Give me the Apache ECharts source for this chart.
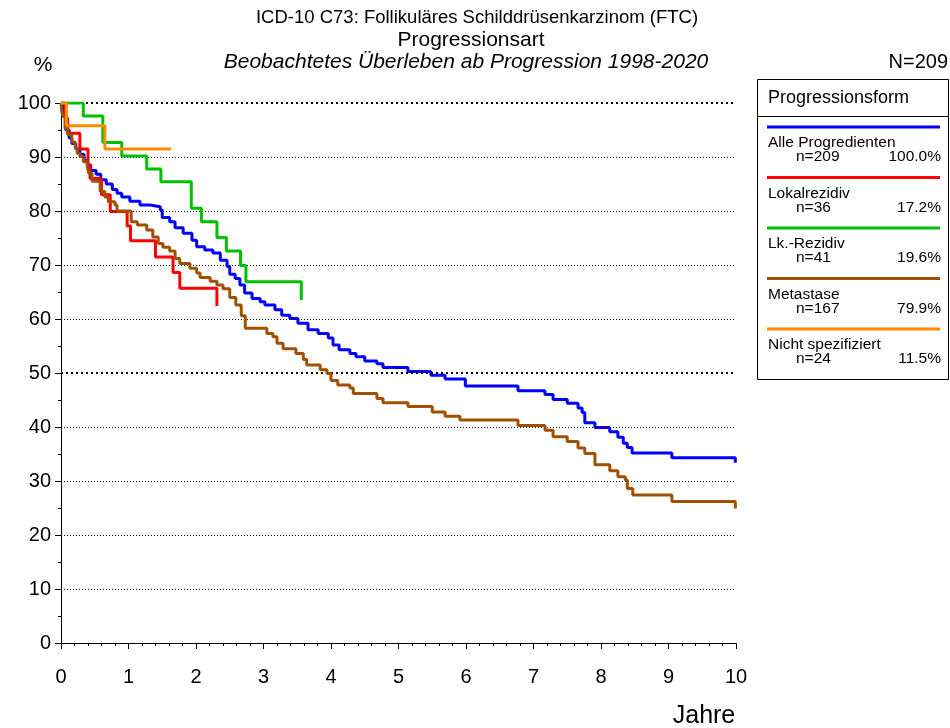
<!DOCTYPE html>
<html>
<head>
<meta charset="utf-8">
<script src="https://cdn.jsdelivr.net/npm/echarts@6/dist/echarts.min.js"></script>
<style>
html,body{margin:0;padding:0;background:#fff;}
#chart{width:950px;height:728px;}
</style>
</head>
<body>
<div id="chart"></div>
<script>
// ---- Data (years since progression, observed survival %) ----
const alleData = [[0,100],[0.03,97.5],[0.07,95.0],[0.12,93.5],[0.16,92.5],[0.22,91.5],[0.28,90.5],[0.34,89.3],[0.39,88.5],[0.44,87.5],[0.52,86.8],[0.59,85.8],[0.67,85.0],[0.76,84.0],[0.83,83.3],[0.90,82.6],[1.02,81.8],[1.17,81.1],[1.32,80.8],[1.47,80.2],[1.50,78.8],[1.61,78.0],[1.69,76.9],[1.81,75.9],[1.94,74.6],[2.01,73.4],[2.13,72.8],[2.25,72.2],[2.36,70.9],[2.46,69.7],[2.50,68.3],[2.58,67.5],[2.65,66.3],[2.72,64.8],[2.83,63.8],[2.95,63.2],[3.02,62.6],[3.17,61.7],[3.27,60.7],[3.39,60.1],[3.51,59.2],[3.66,58.0],[3.81,57.3],[3.96,56.5],[4.03,55.2],[4.12,54.3],[4.28,53.6],[4.37,53.0],[4.50,52.2],[4.68,51.7],[4.77,51.0],[5.14,50.3],[5.48,49.6],[5.69,48.9],[5.99,47.6],[6.77,46.7],[7.17,46.0],[7.29,45.1],[7.50,44.4],[7.66,43.5],[7.72,42.7],[7.76,40.8],[7.91,39.9],[8.13,39.1],[8.25,38.1],[8.33,37.0],[8.39,36.2],[8.46,35.2],[9.05,34.3],[9.99,33.4]];
const lokalData = [[0,100],[0.06,97.2],[0.10,94.4],[0.28,91.5],[0.40,88.5],[0.43,86.0],[0.60,83.0],[0.73,79.9],[0.98,77.2],[1.03,74.5],[1.40,71.5],[1.66,68.6],[1.76,65.7],[2.31,62.4]];
const lkData = [[0,100],[0.33,97.6],[0.62,92.7],[0.90,90.2],[1.27,87.8],[1.48,85.4],[1.93,80.5],[2.08,78.0],[2.31,75.1],[2.45,72.6],[2.66,69.9],[2.74,66.9],[3.56,63.5]];
const metaData = [[0,100],[0.01,98.5],[0.03,97.5],[0.06,95.3],[0.10,94.1],[0.16,92.8],[0.21,91.6],[0.24,90.7],[0.28,90.1],[0.33,89.1],[0.39,88.2],[0.41,87.0],[0.46,85.5],[0.58,83.6],[0.65,82.6],[0.70,81.7],[0.80,81.1],[0.83,80.0],[1.04,78.0],[1.13,77.4],[1.27,76.5],[1.36,75.2],[1.44,74.0],[1.51,73.3],[1.61,72.6],[1.69,71.2],[1.76,70.3],[1.91,69.4],[2.01,68.5],[2.06,67.7],[2.21,67.0],[2.31,66.3],[2.40,65.6],[2.50,64.0],[2.59,62.6],[2.67,60.6],[2.73,58.3],[3.05,57.3],[3.14,56.7],[3.20,55.5],[3.29,54.5],[3.48,53.6],[3.59,52.5],[3.64,51.5],[3.84,50.6],[3.94,49.9],[4.00,48.6],[4.10,47.8],[4.28,47.2],[4.33,46.2],[4.68,45.3],[4.77,44.5],[5.14,43.8],[5.50,42.8],[5.69,42.0],[5.91,41.3],[6.77,40.3],[7.17,39.4],[7.29,38.2],[7.50,37.3],[7.66,36.1],[7.76,35.1],[7.91,33.0],[8.13,31.9],[8.25,30.8],[8.36,30.2],[8.39,28.6],[8.47,27.4],[9.05,26.2],[9.99,24.9]];
const nichtData = [[0,100],[0.08,95.8],[0.65,91.5],[1.63,91.5]];

const seriesNames = ['Alle Progredienten','Lokalrezidiv','Lk.-Rezidiv','Metastase','Nicht spezifiziert'];
const seriesN = ['n=209','n=36','n=41','n=167','n=24'];
const seriesPct = ['100.0%','17.2%','19.6%','79.9%','11.5%'];
const seriesColors = ['#0000FF','#FF0000','#00C000','#A05000','#FF8C00'];
const seriesData = [alleData, lokalData, lkData, metaData, nichtData];

const gridThin = [10,20,30,40,60,70,80,90];
const gridBold = [50,100];

const titleLines = ['ICD-10 C73: Follikuläres Schilddrüsenkarzinom (FTC)','Progressionsart','Beobachtetes Überleben ab Progression 1998-2020'];
const yUnit = '%';
const xUnit = 'Jahre';
const totalN = 'N=209';
const legendTitle = 'Progressionsform';

const FONT = '"Liberation Sans", Arial, sans-serif';
const chart = echarts.init(document.getElementById('chart'), null, {renderer:'canvas'});

const series = seriesData.map((d, i) => ({
  name: seriesNames[i],
  type: 'line',
  step: 'end',
  symbol: 'none',
  data: d,
  lineStyle: {color: seriesColors[i], width: 3},
  itemStyle: {color: seriesColors[i]},
  z: 3 + i,
  silent: true,
  animation: false
}));

series.unshift({
  type: 'line',
  data: [],
  silent: true,
  animation: false,
  z: 1,
  markLine: {
    silent: true,
    symbol: 'none',
    label: {show: false},
    animation: false,
    data: gridThin.map(v => ({yAxis: v, lineStyle: {color: '#000', width: 1, type: [1, 2]}}))
      .concat(gridBold.map(v => ({yAxis: v, lineStyle: {color: '#000', width: 2, type: [2, 3]}})))
  }
});

// legend graphics
const lg = [];
const bx = 757, by = 79, bw = 191, bh = 300;
lg.push({type:'rect', shape:{x:bx+0.5, y:by+0.5, width:bw, height:bh}, style:{fill:'#fff', stroke:'#000', lineWidth:1}, z:10});
lg.push({type:'line', shape:{x1:bx, y1:116.5, x2:bx+bw, y2:116.5}, style:{stroke:'#000', lineWidth:1}, z:11});
lg.push({type:'text', x:768, y:98, style:{text:legendTitle, font:'18px '+FONT, fill:'#000', textVerticalAlign:'middle'}, z:11});
seriesNames.forEach((nm, i) => {
  const ly = 127 + i*50.5;
  lg.push({type:'line', shape:{x1:767, y1:ly, x2:940, y2:ly}, style:{stroke:seriesColors[i], lineWidth:3}, z:11});
  lg.push({type:'text', x:768, y:ly+16, style:{text:nm, font:'15.5px '+FONT, fill:'#000', textVerticalAlign:'middle'}, z:11});
  lg.push({type:'text', x:796, y:ly+30, style:{text:seriesN[i], font:'15.5px '+FONT, fill:'#000', textVerticalAlign:'middle'}, z:11});
  lg.push({type:'text', x:941, y:ly+30, style:{text:seriesPct[i], font:'15.5px '+FONT, fill:'#000', textAlign:'right', textVerticalAlign:'middle'}, z:11});
});

const titles = [
  {type:'text', x:477, y:18, style:{text:titleLines[0], font:'18.5px '+FONT, fill:'#000', textAlign:'center', textVerticalAlign:'middle'}},
  {type:'text', x:471, y:40, style:{text:titleLines[1], font:'21px '+FONT, fill:'#000', textAlign:'center', textVerticalAlign:'middle'}},
  {type:'text', x:466, y:62, style:{text:titleLines[2], font:'italic 21px '+FONT, fill:'#000', textAlign:'center', textVerticalAlign:'middle'}},
  {type:'text', x:43, y:65, style:{text:yUnit, font:'21px '+FONT, fill:'#000', textAlign:'center', textVerticalAlign:'middle'}},
  {type:'text', x:948, y:62, style:{text:totalN, font:'20px '+FONT, fill:'#000', textAlign:'right', textVerticalAlign:'middle'}},
  {type:'text', x:704, y:716, style:{text:xUnit, font:'25px '+FONT, fill:'#000', textAlign:'center', textVerticalAlign:'middle'}}
];

chart.setOption({
  animation: false,
  backgroundColor: '#fff',
  grid: {left: 61, right: 214, top: 103, bottom: 85, containLabel: false},
  xAxis: {
    type: 'value', min: 0, max: 10, interval: 1, offset: 5,
    axisLine: {show: true, lineStyle: {color: '#000', width: 1}},
    axisTick: {show: true, length: 6, lineStyle: {color: '#000'}},
    minorTick: {show: true, splitNumber: 5, length: 3, lineStyle: {color: '#000'}},
    axisLabel: {fontSize: 20, color: '#000', margin: 19, fontFamily: FONT},
    splitLine: {show: false}
  },
  yAxis: {
    type: 'value', min: 0, max: 100, interval: 10, offset: 4,
    axisLine: {show: true, lineStyle: {color: '#000', width: 1}},
    axisTick: {show: true, length: 6, lineStyle: {color: '#000'}},
    minorTick: {show: true, splitNumber: 2, length: 3, lineStyle: {color: '#000'}},
    axisLabel: {fontSize: 20, color: '#000', margin: 6, fontFamily: FONT},
    splitLine: {show: false}
  },
  graphic: titles.concat(lg),
  series: series
});
</script>
</body>
</html>
